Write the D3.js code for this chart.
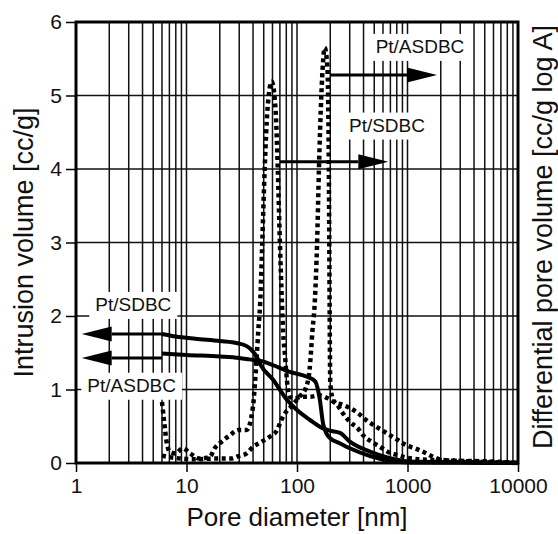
<!DOCTYPE html>
<html>
<head>
<meta charset="utf-8">
<script src="https://cdn.jsdelivr.net/npm/d3@7/dist/d3.min.js"></script>
<style>
  body { margin:0; background:#fff; }
  svg { display:block; font-family:"Liberation Sans", Arial, sans-serif; }
</style>
</head>
<body>
<div id="chart"></div>
<script>
// pore diameter [nm], value
const sdbcIntrusion = [[6,1.755],[8,1.72],[12,1.69],[20,1.66],[29,1.63],[35,1.59],[38,1.55],[43,1.45],[47,1.33],[61,1.13],[81,0.86],[100,0.72],[131,0.585],[172,0.47],[199,0.44],[245,0.41],[301,0.29],[458,0.154],[693,0.064],[1050,0.02],[3000,0.012],[10000,0.005]];
const asdbcIntrusion = [[6,1.49],[10,1.47],[20,1.45],[30,1.43],[37,1.41],[50,1.38],[61,1.33],[86,1.24],[125,1.17],[146,1.11],[161,0.86],[172,0.54],[185,0.40],[199,0.34],[243,0.27],[301,0.2],[458,0.095],[693,0.03],[1050,0.008],[3000,0.003],[10000,0]];
const sdbcDiff = [[6,0.83],[6.3,0.54],[6.6,0.29],[7.1,0.15],[7.9,0.13],[9.3,0.2],[10.8,0.13],[13.2,0.06],[16.3,0.085],[18,0.2],[20.8,0.29],[24.8,0.38],[29.4,0.45],[35,0.45],[40,0.77],[41.6,1.08],[43,1.4],[44.7,1.81],[46.4,2.17],[48.5,3.0],[51,4.0],[54,4.8],[59,5.19],[64,4.8],[67,4.0],[70,3.0],[73,2.2],[75,1.77],[78,1.45],[81,1.13],[86,0.9],[95,0.88],[110,0.9],[130,0.9],[160,0.92],[190,0.88],[215,0.83],[261,0.79],[356,0.68],[425,0.58],[489,0.52],[580,0.45],[693,0.38],[822,0.31],[980,0.24],[1170,0.2],[1440,0.14],[1700,0.085],[2100,0.04],[4000,0.02],[10000,0]];
const asdbcDiff = [[6,0.1],[7,0.08],[9,0.06],[12,0.05],[18,0.06],[25,0.06],[29,0.09],[35,0.13],[40,0.22],[48,0.29],[57,0.36],[65,0.43],[73,0.6],[80,0.7],[90,0.78],[105,0.9],[120,1.02],[130,1.27],[138,1.8],[145,2.2],[152,3.0],[158,4.0],[166,5.0],[172,5.45],[178,5.65],[188,5.4],[193,4.5],[196,3.0],[198,1.8],[200,1.1],[210,0.88],[235,0.78],[254,0.7],[301,0.56],[356,0.47],[395,0.38],[473,0.29],[563,0.22],[668,0.15],[800,0.11],[1000,0.07],[1300,0.05],[1800,0.04],[3000,0.03],[6000,0.02],[10000,0]];

const xTicks = [1, 10, 100, 1000, 10000];
const yTicks = [0, 1, 2, 3, 4, 5, 6];

// annotations: text, centre [d, v]; arrows: from [d, v] to tip [d, v]
const labelTexts = ["Pt/ASDBC", "Pt/SDBC", "Pt/SDBC", "Pt/ASDBC"];
const labelAt = [[1297,5.67],[652,4.6],[3.3,2.16],[3.19,1.06]];
const arrowFrom = [[199,5.28],[70.2,4.1],[6,1.755],[6,1.43]];
const arrowTo = [[1849,5.28],[670,4.1],[1.126,1.755],[1.126,1.43]];

const totalW = 558, totalH = 534;
const margin = { top:22, right:40, bottom:71, left:76 };
const W = totalW - margin.left - margin.right, H = totalH - margin.top - margin.bottom;

const svg = d3.select("#chart").append("svg").attr("width", totalW).attr("height", totalH);
const g = svg.append("g").attr("transform", `translate(${margin.left},${margin.top})`);

const x = d3.scaleLog().domain([1, 10000]).range([0, W]);
const y = d3.scaleLinear().domain([0, 6]).range([H, 0]);

// grid: every minor decade line, every integer on y
const minor = [];
for (let p = 1; p <= 1000; p *= 10) for (let k = 1; k <= 9; k++) if (p * k > 1) minor.push(p * k);
minor.push(10000);
g.append("g").selectAll("line").data(minor).enter().append("line")
  .attr("x1", d => x(d)).attr("x2", d => x(d)).attr("y1", 0).attr("y2", H)
  .attr("stroke", "#111").attr("stroke-width", 1.5);
g.append("g").selectAll("line").data(yTicks.slice(1, -1)).enter().append("line")
  .attr("x1", 0).attr("x2", W).attr("y1", d => y(d)).attr("y2", d => y(d))
  .attr("stroke", "#111").attr("stroke-width", 1.5);

// white label boxes cut the grid
const boxes = g.append("g");
const labels = g.append("g").selectAll("text").data(labelTexts).enter().append("text")
  .attr("x", (d, i) => x(labelAt[i][0])).attr("y", (d, i) => y(labelAt[i][1]))
  .attr("text-anchor", "middle").attr("dy", "0.35em")
  .style("font-size", "19px").attr("fill", "#111").text(d => d);
labels.each(function() {
  const b = this.getBBox();
  boxes.append("rect").attr("x", b.x - 6).attr("y", b.y - 2)
    .attr("width", b.width + 12).attr("height", b.height + 6).attr("fill", "#fff");
});

const line = d3.line().x(d => x(d[0])).y(d => y(d[1])).curve(d3.curveMonotoneX);
const curves = g.append("g").attr("fill", "none").attr("stroke", "#000");
[sdbcDiff, asdbcDiff].forEach(s => {
  curves.append("path").attr("d", line(s)).attr("stroke-width", 4.5).attr("stroke-dasharray", "4,3.5");
});
[sdbcIntrusion, asdbcIntrusion].forEach(s => {
  curves.append("path").attr("d", line(s)).attr("stroke-width", 4).attr("stroke-linejoin", "round");
});

// arrows
arrowFrom.forEach((f, i) => {
  const x0 = x(f[0]), y0 = y(f[1]), x1 = x(arrowTo[i][0]), y1 = y(arrowTo[i][1]);
  const dir = Math.sign(x1 - x0), head = 30, half = 7.5;
  g.append("line").attr("x1", x0).attr("y1", y0).attr("x2", x1 - dir * head).attr("y2", y1)
    .attr("stroke", "#000").attr("stroke-width", 3);
  g.append("path").attr("d", `M${x1},${y1}L${x1 - dir * head},${y1 - half}L${x1 - dir * head},${y1 + half}Z`)
    .attr("fill", "#000");
});
labels.raise();

// frame
g.append("rect").attr("width", W).attr("height", H).attr("fill", "none")
  .attr("stroke", "#000").attr("stroke-width", 3);

// axes
const xAxis = g.append("g").attr("transform", `translate(0,${H})`)
  .call(d3.axisBottom(x).tickValues(xTicks).tickFormat(d3.format("d")).tickSize(9).tickPadding(6));
const yAxis = g.append("g")
  .call(d3.axisLeft(y).tickValues(yTicks).tickFormat(d3.format("d")).tickSize(10).tickPadding(4));
[xAxis, yAxis].forEach(a => {
  a.select(".domain").remove();
  a.selectAll("line").attr("stroke", "#000").attr("stroke-width", 1.5);
  a.selectAll("text").attr("fill", "#111").style("font-size", "21px").style("font-family", "Liberation Sans, Arial, sans-serif");
});

// titles
svg.append("text").attr("x", margin.left + W / 2).attr("y", 526).attr("text-anchor", "middle")
  .style("font-size", "26px").attr("fill", "#111").text("Pore diameter [nm]");
svg.append("text").attr("transform", `translate(33,${margin.top + H / 2}) rotate(-90)`).attr("text-anchor", "middle")
  .style("font-size", "27px").attr("fill", "#111").text("Intrusion volume [cc/g]");
svg.append("text").attr("transform", `translate(552,237) rotate(-90)`).attr("text-anchor", "middle")
  .style("font-size", "27px").attr("fill", "#111").text("Differential pore volume [cc/g log A]");
</script>
</body>
</html>
